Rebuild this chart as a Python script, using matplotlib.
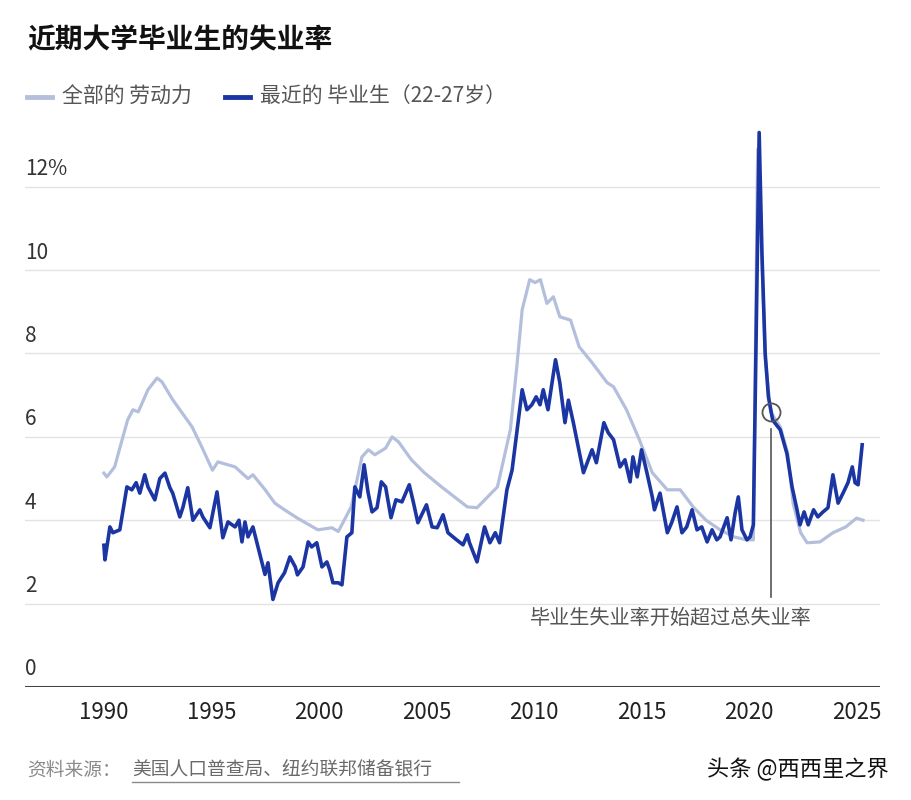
import matplotlib.pyplot as plt
import matplotlib.transforms as mtransforms

plt.rcParams['font.family'] = ['Noto Sans CJK SC', 'DejaVu Sans']

# total labour force (light line)
labor_years = [1990.0, 1990.14, 1990.5, 1991.1, 1991.35, 1991.6, 1992.05, 1992.47, 1992.7, 1993.2,
               1994.1, 1994.55, 1995.05, 1995.3, 1996.1, 1996.7, 1996.93, 1997.5, 1997.95, 1998.4,
               1999.0, 1999.95, 2000.6, 2000.9, 2001.5, 2002.0, 2002.3, 2002.6, 2003.1, 2003.4,
               2003.7, 2004.3, 2004.9, 2005.7, 2006.3, 2006.9, 2007.35, 2008.3, 2008.9, 2009.2,
               2009.45, 2009.8, 2010.05, 2010.3, 2010.6, 2010.9, 2011.2, 2011.7, 2012.1, 2012.7,
               2013.4, 2013.7, 2014.3, 2014.9, 2015.5, 2016.2, 2016.8, 2017.4, 2018.0, 2018.65,
               2019.3, 2019.9, 2020.2, 2020.4, 2020.6, 2020.75, 2021.0, 2021.45, 2021.8, 2022.05,
               2022.4, 2022.7, 2023.3, 2023.9, 2024.5, 2025.0, 2025.3]
labor_rate = [5.13, 5.04, 5.28, 6.4, 6.65, 6.6, 7.13, 7.41, 7.32, 6.89,
              6.24, 5.76, 5.2, 5.4, 5.28, 5.0, 5.09, 4.73, 4.41, 4.25,
              4.05, 3.77, 3.82, 3.73, 4.32, 5.52, 5.69, 5.57, 5.73, 6.0,
              5.88, 5.45, 5.14, 4.8, 4.56, 4.32, 4.3, 4.8, 6.17, 7.68,
              9.05, 9.77, 9.7, 9.77, 9.2, 9.36, 8.88, 8.8, 8.16, 7.78,
              7.3, 7.2, 6.65, 5.93, 5.14, 4.73, 4.73, 4.32, 4.0, 3.77,
              3.6, 3.53, 3.53, 12.9, 10.2, 7.9, 6.6, 6.24, 5.6, 4.4,
              3.7, 3.46, 3.48, 3.7, 3.84, 4.05, 4.0]

# recent graduates aged 22-27 (dark line)
grad_years = [1990.0, 1990.05, 1990.28, 1990.42, 1990.74, 1991.07, 1991.3, 1991.5, 1991.67, 1991.9,
              1992.05, 1992.37, 1992.6, 1992.84, 1993.07, 1993.2, 1993.53, 1993.67, 1993.9, 1994.14,
              1994.46, 1994.6, 1994.93, 1995.26, 1995.53, 1995.77, 1996.1, 1996.28, 1996.42, 1996.56,
              1996.7, 1996.93, 1997.35, 1997.49, 1997.63, 1997.86, 1998.1, 1998.4, 1998.65, 1998.9,
              1999.0, 1999.26, 1999.5, 1999.66, 1999.9, 2000.14, 2000.37, 2000.5, 2000.65, 2000.9,
              2001.07, 2001.3, 2001.53, 2001.67, 2001.9, 2002.1, 2002.28, 2002.47, 2002.7, 2002.9,
              2003.1, 2003.35, 2003.58, 2003.86, 2004.2, 2004.4, 2004.6, 2005.0, 2005.26, 2005.5,
              2005.77, 2006.0, 2006.4, 2006.7, 2006.9, 2007.0, 2007.35, 2007.7, 2007.95, 2008.2,
              2008.4, 2008.74, 2008.98, 2009.45, 2009.67, 2009.9, 2010.1, 2010.28, 2010.43, 2010.65,
              2011.0, 2011.2, 2011.44, 2011.6, 2011.83, 2012.3, 2012.7, 2012.9, 2013.25, 2013.45,
              2013.7, 2014.0, 2014.23, 2014.47, 2014.6, 2014.8, 2015.0, 2015.25, 2015.5, 2015.6,
              2015.86, 2016.2, 2016.4, 2016.65, 2016.88, 2017.1, 2017.35, 2017.58, 2017.8, 2018.05,
              2018.28, 2018.5, 2018.65, 2018.98, 2019.16, 2019.35, 2019.5, 2019.67, 2019.9, 2020.05,
              2020.2, 2020.47, 2020.6, 2020.75, 2020.9, 2021.1, 2021.45, 2021.76, 2022.0, 2022.23,
              2022.37, 2022.56, 2022.75, 2023.0, 2023.2, 2023.44, 2023.67, 2023.9, 2024.14, 2024.37,
              2024.6, 2024.8, 2024.93, 2025.07, 2025.26]
grad_rate = [3.4, 3.05, 3.84, 3.7, 3.77, 4.8, 4.73, 4.9, 4.65, 5.09,
             4.8, 4.49, 5.0, 5.13, 4.78, 4.65, 4.08, 4.3, 4.78, 4.0,
             4.25, 4.08, 3.82, 4.68, 3.58, 3.96, 3.84, 4.0, 3.48, 3.96,
             3.6, 3.84, 2.98, 2.7, 2.98, 2.1, 2.5, 2.74, 3.12, 2.88,
             2.69, 2.88, 3.48, 3.36, 3.46, 2.88, 3.0, 2.81, 2.5, 2.5,
             2.45, 3.6, 3.7, 4.8, 4.56, 5.33, 4.68, 4.2, 4.3, 4.92,
             4.8, 4.06, 4.49, 4.44, 4.85, 4.41, 3.94, 4.37, 3.84, 3.82,
             4.13, 3.7, 3.53, 3.41, 3.65, 3.46, 3.0, 3.84, 3.46, 3.7,
             3.46, 4.73, 5.2, 7.13, 6.65, 6.77, 6.96, 6.77, 7.13, 6.65,
             7.85, 7.3, 6.34, 6.88, 6.34, 5.14, 5.69, 5.38, 6.34, 6.1,
             5.93, 5.28, 5.45, 4.92, 5.52, 5.04, 5.69, 5.14, 4.56, 4.25,
             4.65, 3.7, 3.94, 4.32, 3.7, 3.84, 4.25, 3.77, 3.84, 3.48,
             3.77, 3.53, 3.6, 4.06, 3.53, 4.17, 4.56, 3.77, 3.53, 3.6,
             3.89, 13.3, 10.4, 8.0, 6.96, 6.4, 6.17, 5.6, 4.8, 4.25,
             3.89, 4.2, 3.89, 4.25, 4.08, 4.2, 4.3, 5.09, 4.41, 4.65,
             4.9, 5.28, 4.9, 4.85, 5.81]

x_ticks = [1990, 1995, 2000, 2005, 2010, 2015, 2020, 2025]
y_ticks = [0, 2, 4, 6, 8, 10, 12]
y_labels = ['0', '2', '4', '6', '8', '10', '12%']

light = '#b4bfdc'
dark = '#1b36a3'

fig = plt.figure(figsize=(9.11, 8), dpi=100)
ax = fig.add_axes([0.0274, 0.14125, 0.9386, 0.70875])

ax.plot(labor_years, labor_rate, color=light, lw=2.3, solid_joinstyle='round', zorder=3)
ax.plot(grad_years, grad_rate, color=dark, lw=2.6, solid_joinstyle='round', zorder=4)

ax.set_xlim(1986.33, 2026.09)
ax.set_ylim(0, 13.6)

for s in ax.spines.values():
    s.set_visible(False)
ax.axhline(0, color='#444444', lw=2.2, zorder=5)
for v in y_ticks[1:]:
    ax.axhline(v, color='#e3e3e3', lw=1, zorder=1)

ax.set_yticks([])
ax.set_xticks(x_ticks)
ax.set_xticklabels([str(t) for t in x_ticks], fontsize=16, color='#222222')
ax.tick_params(axis='x', length=0, pad=10)

# y labels sit above the gridlines at the left edge
trans = mtransforms.blended_transform_factory(ax.transAxes, ax.transData)
for v, lab in zip(y_ticks, y_labels):
    ax.text(0.0, v + 0.42, lab, transform=trans, ha='left', va='center',
            fontsize=15, color='#333333')

# annotation: circle, leader line and note
ax.plot([2021.0], [6.6], marker='o', ms=13, mfc='none', mec='#555555', mew=1.3, zorder=6)
ax.plot([2021.03, 2021.03], [6.2, 2.16], color='#555555', lw=1.2, zorder=6)
ax.text(2016.35, 1.65, '毕业生失业率开始超过总失业率', ha='center', va='center',
        fontsize=14.5, color='#555555')

# title and legend
fig.text(0.0296, 0.95, '近期大学毕业生的失业率', fontsize=20, fontweight='bold',
         color='#111111', va='center', ha='left')
fig.add_artist(plt.Line2D([0.0296, 0.057], [0.879, 0.879], color=light, lw=3.5))
fig.text(0.068, 0.879, '全部的 劳动力', fontsize=15, color='#555555', va='center', ha='left')
fig.add_artist(plt.Line2D([0.247, 0.2745], [0.879, 0.879], color=dark, lw=3.5))
fig.text(0.285, 0.879, '最近的 毕业生（22-27岁）', fontsize=15, color='#555555', va='center', ha='left')

# source and watermark
fig.text(0.0296, 0.0375, '资料来源：', fontsize=13.5, color='#8a8a8a', va='center', ha='left')
src = fig.text(0.145, 0.0375, '美国人口普查局、纽约联邦储备银行', fontsize=13.5,
               color='#6a6a6a', va='center', ha='left')
fig.add_artist(plt.Line2D([0.145, 0.504], [0.022, 0.022], color='#8a8a8a', lw=1))
fig.text(0.976, 0.0375, '头条 @西西里之界', fontsize=16, color='#111111', va='center', ha='right')

fig.savefig('out.png', dpi=100)
